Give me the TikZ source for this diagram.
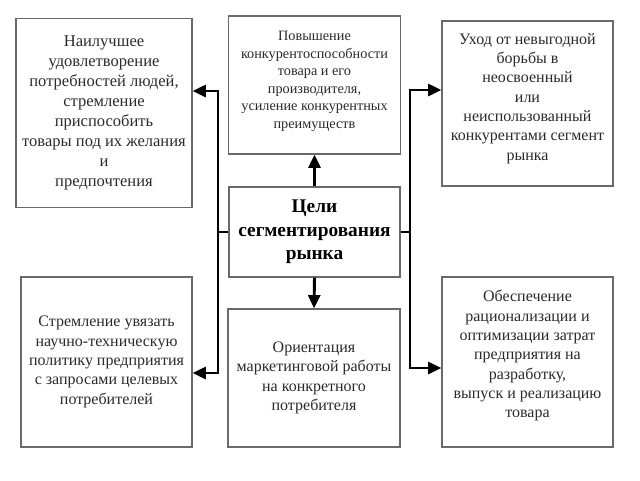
\documentclass[tikz,border=0pt]{standalone}
\usepackage{fontspec}
\setmainfont{Liberation Serif}
\usetikzlibrary{arrows.meta}
\definecolor{txt}{HTML}{2A2A2A}
\definecolor{frame}{HTML}{6A6A6A}
\tikzset{
  box/.style={draw=frame, line width=0.9pt, rectangle, align=center, text=txt, inner sep=2pt,
    font=\fontsize{12}{14.5}\selectfont},
  arr/.style={line width=2.2pt, -{Triangle[length=10pt,width=9pt]}, line join=miter},
}
\begin{document}
\begin{tikzpicture}[x=0.75pt,y=-0.75pt]
\useasboundingbox (0,0) rectangle (640,480);
% boxes
\node[box, minimum width=176*0.75pt, minimum height=189*0.75pt,
  font=\fontsize{12.4}{15}\selectfont] (tl) at (104,113)
  {Наилучшее\\ удовлетворение\\ потребностей людей,\\ стремление\\ приспособить\\ товары под их желания\\ и\\ предпочтения};
\node[box, minimum width=172*0.75pt, minimum height=138*0.75pt,
  font=\fontsize{10.7}{13.1}\selectfont, text depth=8pt] (tc) at (314.5,85)
  {Повышение\\ конкурентоспособности\\ товара и его\\ производителя,\\ усиление конкурентных\\ преимуществ};
\node[box, minimum width=171*0.75pt, minimum height=165*0.75pt, text depth=10pt] (tr) at (527.5,103.5)
  {Уход от невыгодной\\ борьбы в\\ неосвоенный\\ или\\ неиспользованный\\ конкурентами сегмент\\ рынка};
\node[box, minimum width=171*0.75pt, minimum height=90*0.75pt,
  font=\bfseries\fontsize{14.5}{17.5}\selectfont, text=black] (c) at (314.5,232)
  {Цели\\ сегментирования\\ рынка};
\node[box, minimum width=171*0.75pt, minimum height=170*0.75pt] (bl) at (106.5,362)
  {Стремление увязать\\ научно-техническую\\ политику предприятия\\ с запросами целевых\\ потребителей};
\node[box, minimum width=172*0.75pt, minimum height=138*0.75pt] (bc) at (314,378)
  {Ориентация\\ маркетинговой работы\\ на конкретного\\ потребителя};
\node[box, minimum width=171*0.75pt, minimum height=170*0.75pt, text depth=12pt] (br) at (527.5,362)
  {Обеспечение\\ рационализации и\\ оптимизации затрат\\ предприятия на\\ разработку,\\ выпуск и реализацию\\ товара};
% bus points
\coordinate (lbt) at (218,91);
\coordinate (lbb) at (218,373);
\coordinate (rbt) at (410,90);
\coordinate (rbb) at (410,368);
% connectors
\draw[arr] (c.west) -| (lbt) -- (tl.east |- lbt);
\draw[arr] (c.west) -| (lbb) -- (bl.east |- lbb);
\draw[arr] (c.east) -| (rbt) -- (tr.west |- rbt);
\draw[arr] (c.east) -| (rbb) -- (br.west |- rbb);
\draw[arr] (c.north) -- (tc.south);
\draw[arr] (c.south) -- (bc.north);
\end{tikzpicture}
\end{document}
